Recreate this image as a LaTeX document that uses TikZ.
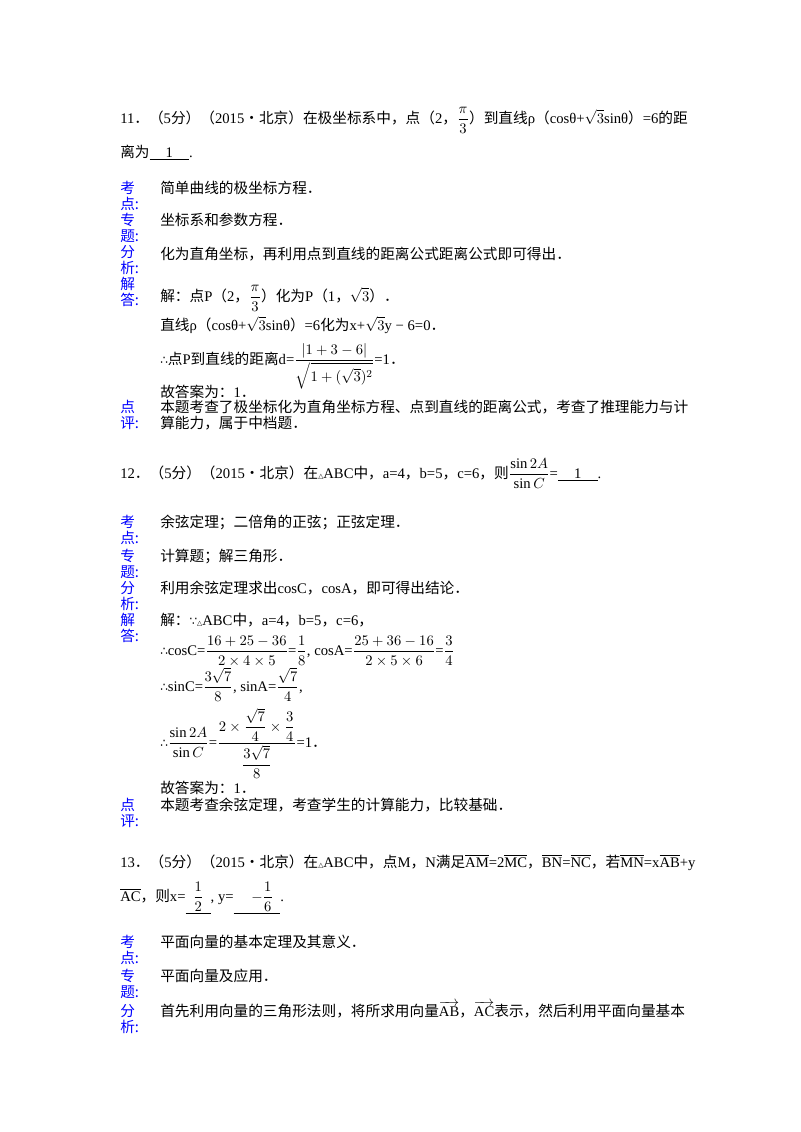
\documentclass[tikz,border=0pt]{standalone}
\usepackage{amsmath}
\usepackage{fontspec}
\setmainfont{Liberation Serif}
\newfontfamily\cjk{Noto Sans CJK SC}
\newfontfamily\djv{DejaVu Sans}
\newcommand{\zh}[1]{{\cjk #1}}
\newcommand{\tf}{{\djv\small ∴}}
\newcommand{\bc}{{\djv\small ∵}}
\newcommand{\tri}{{\djv\tiny △}}
\newcommand{\ub}[1]{\underline{\hspace{1.1em}#1\hspace{1.1em}}}
\begin{document}
\begin{tikzpicture}[x=0.75pt,y=-0.75pt,
  t/.style={anchor=base west,inner sep=0pt,font=\fontsize{11}{13}\selectfont},
  lb/.style={t,text=blue,font=\fontsize{11}{13}\cjk}]
\useasboundingbox (0,0) rectangle (800,1132);
% Q11
\node[t] (q11a) at (120,123) {11\zh{．（}5\zh{分）（}2015\zh{•北京）在极坐标系中，点（}2\zh{，}$\dfrac{\pi}{3}$\zh{）到直线}ρ\zh{（}cosθ+$\sqrt{3}$sinθ\zh{）}=6\zh{的距}};
\node[t] (q11b) at (120,157) {\zh{离为}\ub{1}.};
\node[lb] (k1a) at (120,193) {考};\node[lb] (k1b) at (120,209) {点:};
\node[t] (k1) at (160,193) {\zh{简单曲线的极坐标方程．}};
\node[lb] (z1a) at (120,225) {专};\node[lb] (z1b) at (120,241) {题:};
\node[t] (z1) at (160,225) {\zh{坐标系和参数方程．}};
\node[lb] (f1a) at (120,257) {分};\node[lb] (f1b) at (120,273) {析:};
\node[t] (f1) at (160,259) {\zh{化为直角坐标，再利用点到直线的距离公式距离公式即可得出．}};
\node[lb] (j1a) at (120,289) {解};\node[lb] (j1b) at (120,305) {答:};
\node[t] (j1) at (160,301) {\zh{解：点}P\zh{（}2\zh{，}$\dfrac{\pi}{3}$\zh{）化为}P\zh{（}1\zh{，}$\sqrt{3}$\zh{）．}};
\node[t] (j2) at (160,330) {\zh{直线}ρ\zh{（}cosθ+$\sqrt{3}$sinθ\zh{）}=6\zh{化为}x+$\sqrt{3}$y − 6=0\zh{．}};
\node[t] (j3) at (160,364) {\tf\zh{点}P\zh{到直线的距离}d=$\dfrac{|1+3-6|}{\sqrt{1+(\sqrt{3})^{2}}}$=1\zh{．}};
\node[t] (j4) at (160,397) {\zh{故答案为：}1\zh{．}};
\node[lb] (p1a) at (120,412) {点};\node[lb] (p1b) at (120,428) {评:};
\node[t] (p1) at (160,412) {\zh{本题考查了极坐标化为直角坐标方程、点到直线的距离公式，考查了推理能力与计}};
\node[t] (p2) at (160,428) {\zh{算能力，属于中档题．}};
% Q12
\node[t] (q12a) at (120,478) {12\zh{．（}5\zh{分）（}2015\zh{•北京）在}\tri ABC\zh{中，}a=4\zh{，}b=5\zh{，}c=6\zh{，则}$\dfrac{\sin 2A}{\sin C}$=\ub{1}.};
\node[lb] (k2a) at (120,527) {考};\node[lb] (k2b) at (120,543) {点:};
\node[t] (k2) at (160,527) {\zh{余弦定理；二倍角的正弦；正弦定理．}};
\node[lb] (z2a) at (120,561) {专};\node[lb] (z2b) at (120,577) {题:};
\node[t] (z2) at (160,561) {\zh{计算题；解三角形．}};
\node[lb] (f2a) at (120,593) {分};\node[lb] (f2b) at (120,609) {析:};
\node[t] (f2) at (160,593) {\zh{利用余弦定理求出}cosC\zh{，}cosA\zh{，即可得出结论．}};
\node[lb] (j2a) at (120,625) {解};\node[lb] (j2b) at (120,641) {答:};
\node[t] (s1) at (160,625) {\zh{解：}\bc\tri ABC\zh{中，}a=4\zh{，}b=5\zh{，}c=6\zh{，}};
\node[t] (s2) at (160,655) {\tf cosC=$\dfrac{16+25-36}{2\times4\times5}$=$\dfrac{1}{8}$, cosA=$\dfrac{25+36-16}{2\times5\times6}$=$\dfrac{3}{4}$};
\node[t] (s3) at (160,691) {\tf sinC=$\dfrac{3\sqrt{7}}{8}$, sinA=$\dfrac{\sqrt{7}}{4}$,};
\node[t] (s4) at (160,747) {\tf$\dfrac{\sin 2A}{\sin C}$=$\dfrac{2\times\dfrac{\sqrt{7}}{4}\times\dfrac{3}{4}}{\dfrac{3\sqrt{7}}{8}}$=1\zh{．}};
\node[t] (s5) at (160,793) {\zh{故答案为：}1\zh{．}};
\node[lb] (p2a) at (120,810) {点};\node[lb] (p2b) at (120,826) {评:};
\node[t] (p3) at (160,810) {\zh{本题考查余弦定理，考查学生的计算能力，比较基础．}};
% Q13
\node[t] (q13a) at (120,867) {13\zh{．（}5\zh{分）（}2015\zh{•北京）在}\tri ABC\zh{中，点}M\zh{，}N\zh{满足}$\overline{\mathrm{AM}}$=2$\overline{\mathrm{MC}}$\zh{，}$\overline{\mathrm{BN}}$=$\overline{\mathrm{NC}}$\zh{，若}$\overline{\mathrm{MN}}$=x$\overline{\mathrm{AB}}$+y};
\node[t] (q13b) at (120,901) {$\overline{\mathrm{AC}}$\zh{，则}x=\underline{\hspace{0.5em}$\dfrac{1}{2}$\hspace{0.5em}}, y=\underline{\hspace{1.2em}$-\dfrac{1}{6}$\hspace{0.5em}}.};
\node[lb] (k3a) at (120,947) {考};\node[lb] (k3b) at (120,963) {点:};
\node[t] (k3) at (160,947) {\zh{平面向量的基本定理及其意义．}};
\node[lb] (z3a) at (120,981) {专};\node[lb] (z3b) at (120,997) {题:};
\node[t] (z3) at (160,981) {\zh{平面向量及应用．}};
\node[lb] (f3a) at (120,1016) {分};\node[lb] (f3b) at (120,1032) {析:};
\node[t] (f3) at (160,1016) {\zh{首先利用向量的三角形法则，将所求用向量}$\overrightarrow{\mathrm{AB}}$\zh{，}$\overrightarrow{\mathrm{AC}}$\zh{表示，然后利用平面向量基本}};
\end{tikzpicture}
\end{document}
